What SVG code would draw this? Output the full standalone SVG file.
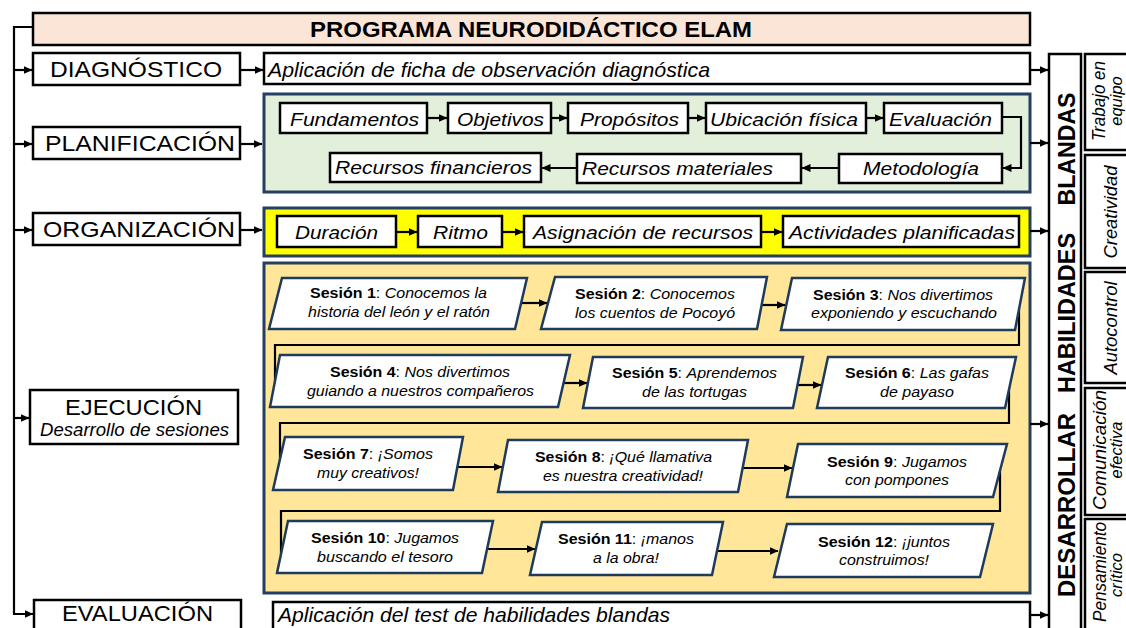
<svg xmlns="http://www.w3.org/2000/svg" width="1126" height="628" viewBox="0 0 1126 628">
<style>
text{font-family:"Liberation Sans",Arial,sans-serif;fill:#000}
.box{fill:#fff;stroke:#000;stroke-width:2.5}
.lbl{font-size:22px}
.it{font-style:italic}
.pt{font-size:19px;font-style:italic}
.ss{font-size:14.5px}
.sk{font-size:17.5px;font-style:italic}
.sk2{font-size:16.5px;font-style:italic}
.panel{stroke:#243F60;stroke-width:3}
.ses{fill:#fff;stroke:#1F3B5C;stroke-width:2.5;stroke-linejoin:miter}
.con path{fill:none;stroke:#000;stroke-width:2.2}
.ar{marker-end:url(#ah)}
</style>
<defs>
<marker id="ah" markerUnits="userSpaceOnUse" markerWidth="9" markerHeight="8" refX="8.5" refY="4" orient="auto"><path d="M0,0 L9,4 L0,8 z" fill="#000"/></marker>
</defs>
<rect width="1126" height="628" fill="#fff"/>

<g id="panel-planificacion"><rect class="panel" x="264" y="94" width="766" height="98" fill="#E2EFDA"/></g>
<g id="panel-organizacion"><rect class="panel" x="264" y="208" width="766" height="48" fill="#FFFF00"/></g>
<g id="panel-ejecucion"><rect class="panel" x="264" y="263" width="766" height="330" fill="#FFE699"/></g>

<g id="connectors" class="con">
<path d="M33,27 H14 V614 H33" class="ar"/>
<path d="M14,70 H32" class="ar"/>
<path d="M14,144 H32" class="ar"/>
<path d="M14,230 H32" class="ar"/>
<path d="M14,418 H29" class="ar"/>
<path d="M240,70 H263" class="ar"/>
<path d="M240,144 H262" class="ar"/>
<path d="M240,230 H262" class="ar"/>
<path d="M1030,70 H1048" class="ar"/>
<path d="M1030,143 H1048" class="ar"/>
<path d="M1030,231 H1048" class="ar"/>
<path d="M1030,424 H1048" class="ar"/>
<path d="M1030,615 H1048" class="ar"/>
<path d="M427,118 H447" class="ar"/>
<path d="M551,118 H567" class="ar"/>
<path d="M688,118 H705" class="ar"/>
<path d="M866,118 H883" class="ar"/>
<path d="M1002,117 H1021 V168 H1003" class="ar"/>
<path d="M839,168 H802" class="ar"/>
<path d="M577,168 H542" class="ar"/>
<path d="M397,232 H417" class="ar"/>
<path d="M502,232 H523" class="ar"/>
<path d="M761,232 H782" class="ar"/>
<path d="M520,303 H547" class="ar"/>
<path d="M762,305 H785" class="ar"/>
<path d="M564,383 H587" class="ar"/>
<path d="M797,385 H821" class="ar"/>
<path d="M457,467 H502" class="ar"/>
<path d="M742,468 H792" class="ar"/>
<path d="M482,549 H535" class="ar"/>
<path d="M713,551 H778" class="ar"/>
<path d="M1019,307 V345 H275 V395"/>
<path d="M1009,385 V423 H280 V470"/>
<path d="M1000,470 V511 H281 V555"/>
</g>

<g id="title"><rect x="33" y="13" width="997" height="32" fill="#FBE5D6" stroke="#000" stroke-width="2.5"/>
<text x="531" y="37" text-anchor="middle" class="lbl" font-weight="bold" textLength="442" lengthAdjust="spacingAndGlyphs">PROGRAMA NEURODIDÁCTICO ELAM</text></g>

<g id="diagnostico"><rect class="box" x="33" y="53" width="207" height="32"/>
<text x="136" y="77" text-anchor="middle" class="lbl" textLength="172" lengthAdjust="spacingAndGlyphs">DIAGNÓSTICO</text></g>
<g id="diagnostico-desc"><rect class="box" x="264" y="53" width="766" height="31"/>
<text x="268" y="77" class="it" font-size="21" textLength="442" lengthAdjust="spacingAndGlyphs">Aplicación de ficha de observación diagnóstica</text></g>

<g id="planificacion"><rect class="box" x="33" y="127" width="207" height="32"/>
<text x="140" y="151" text-anchor="middle" class="lbl" textLength="190" lengthAdjust="spacingAndGlyphs">PLANIFICACIÓN</text></g>

<g id="fundamentos"><rect class="box" x="280" y="103" width="147" height="30"/><text x="354.5" y="126" text-anchor="middle" class="pt" textLength="129" lengthAdjust="spacingAndGlyphs">Fundamentos</text></g>
<g id="objetivos"><rect class="box" x="448" y="103" width="103" height="30"/><text x="500.5" y="126" text-anchor="middle" class="pt" textLength="87" lengthAdjust="spacingAndGlyphs">Objetivos</text></g>
<g id="propositos"><rect class="box" x="568" y="103" width="120" height="30"/><text x="629.5" y="126" text-anchor="middle" class="pt" textLength="99" lengthAdjust="spacingAndGlyphs">Propósitos</text></g>
<g id="ubicacion"><rect class="box" x="706" y="103" width="160" height="30"/><text x="784" y="126" text-anchor="middle" class="pt" textLength="148" lengthAdjust="spacingAndGlyphs">Ubicación física</text></g>
<g id="evaluacion-p"><rect class="box" x="884" y="103" width="118" height="30"/><text x="940.5" y="126" text-anchor="middle" class="pt" textLength="103" lengthAdjust="spacingAndGlyphs">Evaluación</text></g>
<g id="rec-financieros"><rect class="box" x="330" y="153" width="211" height="29"/><text x="433.5" y="174" text-anchor="middle" class="pt" textLength="197" lengthAdjust="spacingAndGlyphs">Recursos financieros</text></g>
<g id="rec-materiales"><rect class="box" x="577" y="154" width="224" height="29"/><text x="677.5" y="175" text-anchor="middle" class="pt" textLength="191" lengthAdjust="spacingAndGlyphs">Recursos materiales</text></g>
<g id="metodologia"><rect class="box" x="839" y="154" width="163" height="29"/><text x="921" y="175" text-anchor="middle" class="pt" textLength="116" lengthAdjust="spacingAndGlyphs">Metodología</text></g>

<g id="organizacion"><rect class="box" x="33" y="213" width="207" height="32"/>
<text x="139" y="237" text-anchor="middle" class="lbl" textLength="192" lengthAdjust="spacingAndGlyphs">ORGANIZACIÓN</text></g>
<g id="duracion"><rect class="box" x="277" y="216" width="119" height="31"/><text x="336.5" y="239" text-anchor="middle" class="pt" textLength="83" lengthAdjust="spacingAndGlyphs">Duración</text></g>
<g id="ritmo"><rect class="box" x="418" y="216" width="84" height="31"/><text x="460.5" y="239" text-anchor="middle" class="pt" textLength="55" lengthAdjust="spacingAndGlyphs">Ritmo</text></g>
<g id="asignacion"><rect class="box" x="524" y="216" width="237" height="31"/><text x="643" y="239" text-anchor="middle" class="pt" textLength="220" lengthAdjust="spacingAndGlyphs">Asignación de recursos</text></g>
<g id="actividades"><rect class="box" x="783" y="216" width="236" height="31"/><text x="902" y="239" text-anchor="middle" class="pt" textLength="226" lengthAdjust="spacingAndGlyphs">Actividades planificadas</text></g>

<g id="ejecucion"><rect class="box" x="30" y="390" width="208" height="54"/>
<text x="133.5" y="415" text-anchor="middle" class="lbl" textLength="137" lengthAdjust="spacingAndGlyphs">EJECUCIÓN</text>
<text x="134.5" y="436" text-anchor="middle" class="it" font-size="18" textLength="189" lengthAdjust="spacingAndGlyphs">Desarrollo de sesiones</text></g>

<g id="s1"><polygon class="ses" points="282,278 527,278 515,329 269,329"/>
<text x="398.5" y="298" text-anchor="middle" class="ss" textLength="177" lengthAdjust="spacingAndGlyphs"><tspan font-weight="bold">Sesión 1</tspan>: <tspan font-style="italic">Conocemos la</tspan></text>
<text x="399" y="317" text-anchor="middle" class="ss it" textLength="182" lengthAdjust="spacingAndGlyphs">historia del león y el ratón</text></g>
<g id="s2"><polygon class="ses" points="555,277 767,277 757,329 541,329"/>
<text x="655" y="299" text-anchor="middle" class="ss" textLength="160" lengthAdjust="spacingAndGlyphs"><tspan font-weight="bold">Sesión 2</tspan>: <tspan font-style="italic">Conocemos</tspan></text>
<text x="655" y="318" text-anchor="middle" class="ss it" textLength="160" lengthAdjust="spacingAndGlyphs">los cuentos de Pocoyó</text></g>
<g id="s3"><polygon class="ses" points="792,278 1025,278 1015,330 781,330"/>
<text x="903" y="300" text-anchor="middle" class="ss" textLength="180" lengthAdjust="spacingAndGlyphs"><tspan font-weight="bold">Sesión 3</tspan>: <tspan font-style="italic">Nos divertimos</tspan></text>
<text x="904" y="318" text-anchor="middle" class="ss it" textLength="186" lengthAdjust="spacingAndGlyphs">exponiendo y escuchando</text></g>
<g id="s4"><polygon class="ses" points="280,355 570,355 558,407 270,407"/>
<text x="420" y="377" text-anchor="middle" class="ss" textLength="180" lengthAdjust="spacingAndGlyphs"><tspan font-weight="bold">Sesión 4</tspan>: <tspan font-style="italic">Nos divertimos</tspan></text>
<text x="420.5" y="396" text-anchor="middle" class="ss it" textLength="227" lengthAdjust="spacingAndGlyphs">guiando a nuestros compañeros</text></g>
<g id="s5"><polygon class="ses" points="593,357 803,357 793,408 583,408"/>
<text x="694.5" y="378" text-anchor="middle" class="ss" textLength="165" lengthAdjust="spacingAndGlyphs"><tspan font-weight="bold">Sesión 5</tspan>: <tspan font-style="italic">Aprendemos</tspan></text>
<text x="694.5" y="397" text-anchor="middle" class="ss it" textLength="105" lengthAdjust="spacingAndGlyphs">de las tortugas</text></g>
<g id="s6"><polygon class="ses" points="828,357 1016,357 1005,408 817,408"/>
<text x="917" y="378" text-anchor="middle" class="ss" textLength="144" lengthAdjust="spacingAndGlyphs"><tspan font-weight="bold">Sesión 6</tspan>: <tspan font-style="italic">Las gafas</tspan></text>
<text x="917" y="397" text-anchor="middle" class="ss it" textLength="74" lengthAdjust="spacingAndGlyphs">de payaso</text></g>
<g id="s7"><polygon class="ses" points="285,437 463,437 453,490 273,490"/>
<text x="368" y="459" text-anchor="middle" class="ss" textLength="130" lengthAdjust="spacingAndGlyphs"><tspan font-weight="bold">Sesión 7</tspan>: <tspan font-style="italic">¡Somos</tspan></text>
<text x="368" y="478" text-anchor="middle" class="ss it" textLength="102" lengthAdjust="spacingAndGlyphs">muy creativos!</text></g>
<g id="s8"><polygon class="ses" points="508,440 748,440 738,492 498,492"/>
<text x="623.5" y="462" text-anchor="middle" class="ss" textLength="177" lengthAdjust="spacingAndGlyphs"><tspan font-weight="bold">Sesión 8</tspan>: <tspan font-style="italic">¡Qué llamativa</tspan></text>
<text x="623" y="481" text-anchor="middle" class="ss it" textLength="160" lengthAdjust="spacingAndGlyphs">es nuestra creatividad!</text></g>
<g id="s9"><polygon class="ses" points="798,444 1007,444 993,497 787,497"/>
<text x="897" y="467" text-anchor="middle" class="ss" textLength="140" lengthAdjust="spacingAndGlyphs"><tspan font-weight="bold">Sesión 9</tspan>: <tspan font-style="italic">Jugamos</tspan></text>
<text x="897" y="485" text-anchor="middle" class="ss it" textLength="104" lengthAdjust="spacingAndGlyphs">con pompones</text></g>
<g id="s10"><polygon class="ses" points="288,521 493,521 482,573 277,573"/>
<text x="385" y="543" text-anchor="middle" class="ss" textLength="148" lengthAdjust="spacingAndGlyphs"><tspan font-weight="bold">Sesión 10</tspan>: <tspan font-style="italic">Jugamos</tspan></text>
<text x="385" y="562" text-anchor="middle" class="ss it" textLength="136" lengthAdjust="spacingAndGlyphs">buscando el tesoro</text></g>
<g id="s11"><polygon class="ses" points="542,522 723,522 712,575 530,575"/>
<text x="626" y="544" text-anchor="middle" class="ss" textLength="136" lengthAdjust="spacingAndGlyphs"><tspan font-weight="bold">Sesión 11</tspan>: <tspan font-style="italic">¡manos</tspan></text>
<text x="626" y="563" text-anchor="middle" class="ss it" textLength="66" lengthAdjust="spacingAndGlyphs">a la obra!</text></g>
<g id="s12"><polygon class="ses" points="787,524 993,524 980,577 774,577"/>
<text x="884" y="547" text-anchor="middle" class="ss" textLength="132" lengthAdjust="spacingAndGlyphs"><tspan font-weight="bold">Sesión 12</tspan>: <tspan font-style="italic">¡juntos</tspan></text>
<text x="884" y="565" text-anchor="middle" class="ss it" textLength="90" lengthAdjust="spacingAndGlyphs">construimos!</text></g>

<g id="evaluacion"><rect class="box" x="34" y="600" width="207" height="40"/>
<text x="137.5" y="621" text-anchor="middle" class="lbl" textLength="151" lengthAdjust="spacingAndGlyphs">EVALUACIÓN</text></g>
<g id="evaluacion-desc"><rect class="box" x="273" y="602" width="757" height="40"/>
<text x="278" y="622" class="it" font-size="21" textLength="392" lengthAdjust="spacingAndGlyphs">Aplicación del test de habilidades blandas</text></g>

<g id="desarrollar"><rect class="box" x="1049" y="54" width="32" height="590"/>
<text transform="translate(1075,149) rotate(-90)" text-anchor="middle" font-size="23" font-weight="bold" textLength="113" lengthAdjust="spacingAndGlyphs">BLANDAS</text>
<text transform="translate(1075,313) rotate(-90)" text-anchor="middle" font-size="23" font-weight="bold" textLength="160" lengthAdjust="spacingAndGlyphs">HABILIDADES</text>
<text transform="translate(1075,505) rotate(-90)" text-anchor="middle" font-size="23" font-weight="bold" textLength="184" lengthAdjust="spacingAndGlyphs">DESARROLLAR</text></g>

<g id="sk-trabajo"><rect class="box" x="1085" y="54" width="55" height="96"/>
<text transform="translate(1105,101) rotate(-90)" text-anchor="middle" class="sk" textLength="80" lengthAdjust="spacingAndGlyphs">Trabajo en</text>
<text transform="translate(1122,101) rotate(-90)" text-anchor="middle" class="sk2">equipo</text></g>
<g id="sk-creatividad"><rect class="box" x="1085" y="155" width="55" height="113"/>
<text transform="translate(1117,212) rotate(-90)" text-anchor="middle" class="sk" textLength="93" lengthAdjust="spacingAndGlyphs">Creatividad</text></g>
<g id="sk-autocontrol"><rect class="box" x="1085" y="272" width="55" height="111"/>
<text transform="translate(1117,328) rotate(-90)" text-anchor="middle" class="sk" textLength="93" lengthAdjust="spacingAndGlyphs">Autocontrol</text></g>
<g id="sk-comunicacion"><rect class="box" x="1085" y="388" width="55" height="127"/>
<text transform="translate(1106,450) rotate(-90)" text-anchor="middle" class="sk" textLength="120" lengthAdjust="spacingAndGlyphs">Comunicación</text>
<text transform="translate(1122,450) rotate(-90)" text-anchor="middle" class="sk2">efectiva</text></g>
<g id="sk-pensamiento"><rect class="box" x="1085" y="519" width="55" height="125"/>
<text transform="translate(1106,572) rotate(-90)" text-anchor="middle" class="sk" textLength="100" lengthAdjust="spacingAndGlyphs">Pensamiento</text>
<text transform="translate(1122,575) rotate(-90)" text-anchor="middle" class="sk2">crítico</text></g>
</svg>
